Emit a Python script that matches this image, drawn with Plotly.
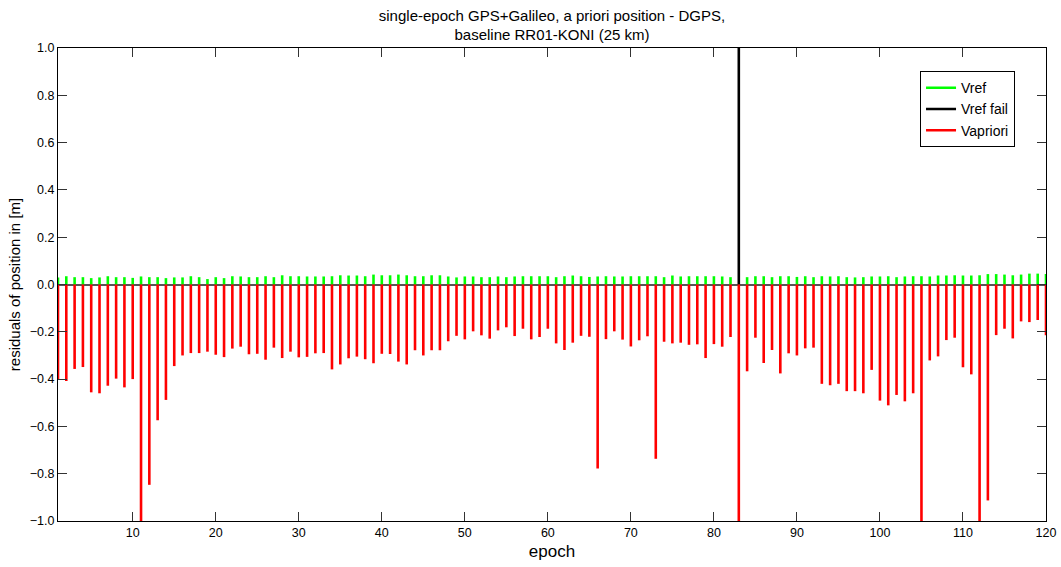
import plotly.graph_objects as go

epochs = list(range(1, 121))

vref = [0.030, 0.035, 0.031, 0.031, 0.027, 0.030, 0.035, 0.031, 0.031, 0.028,
        0.034, 0.031, 0.031, 0.027, 0.030, 0.030, 0.035, 0.031, 0.023, 0.031,
        0.027, 0.035, 0.034, 0.031, 0.031, 0.035, 0.031, 0.039, 0.035, 0.035,
        0.034, 0.034, 0.034, 0.035, 0.039, 0.038, 0.038, 0.035, 0.042, 0.039,
        0.039, 0.042, 0.039, 0.035, 0.035, 0.039, 0.039, 0.034, 0.030, 0.034,
        0.034, 0.031, 0.031, 0.034, 0.031, 0.034, 0.035, 0.035, 0.035, 0.035,
        0.031, 0.035, 0.038, 0.035, 0.032, 0.034, 0.035, 0.034, 0.034, 0.035,
        0.035, 0.035, 0.035, 0.031, 0.038, 0.034, 0.035, 0.035, 0.035, 0.035,
        0.034, 0.031, None, 0.031, 0.035, 0.035, 0.031, 0.035, 0.035, 0.032,
        0.035, 0.031, 0.035, 0.034, 0.035, 0.031, 0.030, 0.031, 0.034, 0.034,
        0.035, 0.031, 0.034, 0.035, 0.035, 0.034, 0.038, 0.038, 0.039, 0.038,
        0.038, 0.039, 0.044, 0.044, 0.042, 0.039, 0.042, 0.046, 0.046, 0.044]

vref_fail_epochs = [83]
vref_fail = [1.5]

vapriori = [-0.400, -0.408, -0.357, -0.349, -0.456, -0.460, -0.428, -0.398, -0.435, -0.400,
            -1.300, -0.847, -0.574, -0.488, -0.345, -0.300, -0.290, -0.290, -0.284, -0.297,
            -0.307, -0.271, -0.263, -0.295, -0.293, -0.318, -0.267, -0.311, -0.284, -0.308,
            -0.306, -0.291, -0.290, -0.359, -0.338, -0.312, -0.305, -0.316, -0.333, -0.293,
            -0.294, -0.326, -0.338, -0.278, -0.300, -0.278, -0.278, -0.240, -0.217, -0.232,
            -0.198, -0.215, -0.229, -0.194, -0.181, -0.218, -0.187, -0.232, -0.222, -0.187,
            -0.249, -0.277, -0.246, -0.217, -0.221, -0.778, -0.231, -0.198, -0.233, -0.262,
            -0.236, -0.219, -0.737, -0.242, -0.249, -0.246, -0.255, -0.253, -0.311, -0.252,
            -0.263, -0.222, -1.300, -0.367, -0.225, -0.332, -0.277, -0.376, -0.291, -0.300,
            -0.270, -0.267, -0.420, -0.426, -0.420, -0.451, -0.451, -0.460, -0.361, -0.491,
            -0.511, -0.467, -0.494, -0.460, -1.300, -0.321, -0.304, -0.235, -0.225, -0.350,
            -0.380, -1.300, -0.913, -0.214, -0.187, -0.228, -0.156, -0.159, -0.150, -0.215]

x_ticks = [10, 20, 30, 40, 50, 60, 70, 80, 90, 100, 110, 120]
y_ticks = [-1.0, -0.8, -0.6, -0.4, -0.2, 0.0, 0.2, 0.4, 0.6, 0.8, 1.0]


def stems(xs, ys):
    sx, sy = [], []
    for x, y in zip(xs, ys):
        if y is None:
            continue
        sx += [x, x, None]
        sy += [0, y, None]
    return sx, sy


fig = go.Figure()
gx, gy = stems(epochs, vref)
fig.add_trace(go.Scatter(x=gx, y=gy, mode="lines", name="Vref",
                         line=dict(color="#00ff00", width=2.6)))
bx, by = stems(vref_fail_epochs, vref_fail)
fig.add_trace(go.Scatter(x=bx, y=by, mode="lines", name="Vref fail",
                         line=dict(color="#000000", width=2.6)))
rx, ry = stems(epochs, vapriori)
fig.add_trace(go.Scatter(x=rx, y=ry, mode="lines", name="Vapriori",
                         line=dict(color="#ff0000", width=2.6)))

fig.update_layout(
    width=1061, height=567,
    paper_bgcolor="white", plot_bgcolor="white",
    margin=dict(l=58, r=15, t=48, b=46, autoexpand=False),
    font=dict(family="Liberation Sans, Arial, sans-serif", size=12, color="black"),
    title=dict(text="single-epoch GPS+Galileo, a priori position - DGPS,<br>baseline RR01-KONI (25 km)",
               x=0.5, xref="paper", xanchor="center", y=0.9638, yanchor="top",
               font=dict(size=15)),
    showlegend=True,
    hovermode=False,
    legend=dict(x=0.8725, y=0.951, xanchor="left", yanchor="top",
                bordercolor="black", borderwidth=1, bgcolor="white",
                font=dict(size=14), tracegroupgap=0, itemwidth=30),
)
fig.update_xaxes(range=[1, 120], tickvals=x_ticks, ticks="inside", ticklen=9,
                 tickcolor="#333", showline=True, linecolor="black", linewidth=1,
                 mirror="ticks", showgrid=False, zeroline=False, automargin=False,
                 title=dict(text="epoch", font=dict(size=17), standoff=6),
                 tickfont=dict(size=12.5))
fig.update_yaxes(range=[-1, 1], tickvals=y_ticks, tickformat=".1f", ticks="inside", ticklen=9,
                 tickcolor="#333", showline=True, linecolor="black", linewidth=1,
                 mirror="ticks", showgrid=False, zeroline=True, zerolinecolor="#555",
                 zerolinewidth=1.5, automargin=False,
                 title=dict(text="residuals of position in [m]", font=dict(size=15), standoff=5),
                 tickfont=dict(size=12.5))

fig.write_html("out.html", config={"displayModeBar": False},
               post_script="document.body.style.margin='0';document.body.style.overflow='hidden';")
